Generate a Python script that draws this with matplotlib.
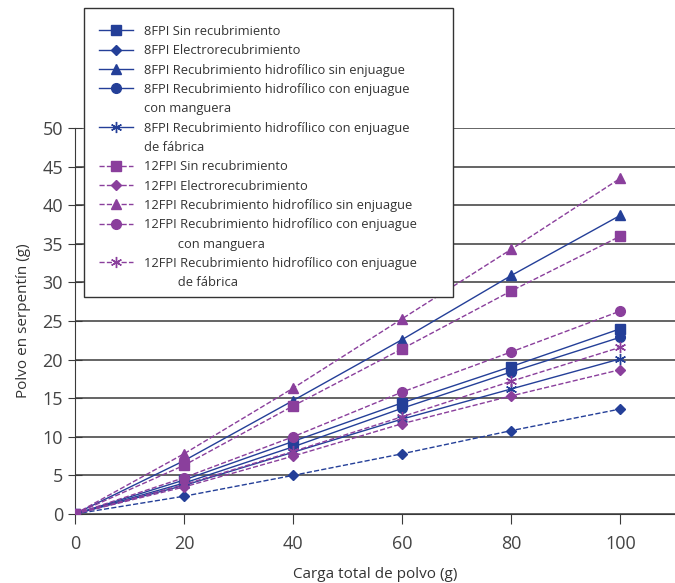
import matplotlib
matplotlib.use('Agg')
import matplotlib.pyplot as plt
from matplotlib.lines import Line2D
from matplotlib.patches import Rectangle

plt.rcParams['font.family'] = ['Open Sans', 'DejaVu Sans']

carga = [0, 20, 40, 60, 80, 100]

fpi8_sin = [0, 4.4, 9.4, 14.4, 19.1, 24.0]
fpi8_electro = [0, 2.3, 5.0, 7.8, 10.8, 13.6]
fpi8_hidro_sin = [0, 6.9, 14.7, 22.6, 30.9, 38.7]
fpi8_manguera = [0, 4.0, 8.7, 13.7, 18.4, 22.9]
fpi8_fabrica = [0, 3.7, 8.0, 12.3, 16.2, 20.1]

fpi12_sin = [0, 6.3, 14.0, 21.4, 28.9, 36.0]
fpi12_electro = [0, 3.5, 7.5, 11.7, 15.3, 18.7]
fpi12_hidro_sin = [0, 7.8, 16.3, 25.3, 34.3, 43.5]
fpi12_manguera = [0, 4.7, 10.0, 15.8, 21.0, 26.3]
fpi12_fabrica = [0, 3.8, 8.1, 12.6, 17.2, 21.6]

etiquetas = [
    '8FPI Sin recubrimiento',
    '8FPI Electrorecubrimiento',
    '8FPI Recubrimiento hidrofílico sin enjuague',
    '8FPI Recubrimiento hidrofílico con enjuague\ncon manguera',
    '8FPI Recubrimiento hidrofílico con enjuague\nde fábrica',
    '12FPI Sin recubrimiento',
    '12FPI Electrorecubrimiento',
    '12FPI Recubrimiento hidrofílico sin enjuague',
    '12FPI Recubrimiento hidrofílico con enjuague\n          con manguera',
    '12FPI Recubrimiento hidrofílico con enjuague\n          de fábrica',
]

azul = '#243f98'
morado = '#8a3f9c'
asterisco = (6, 2, 0)

series = [
    (fpi8_sin, azul, '-', 's', 7),
    (fpi8_electro, azul, '--', 'D', 5),
    (fpi8_hidro_sin, azul, '-', '^', 7),
    (fpi8_manguera, azul, '-', 'o', 7),
    (fpi8_fabrica, azul, '-', asterisco, 8),
    (fpi12_sin, morado, '--', 's', 7),
    (fpi12_electro, morado, '--', 'D', 5),
    (fpi12_hidro_sin, morado, '--', '^', 7),
    (fpi12_manguera, morado, '--', 'o', 7),
    (fpi12_fabrica, morado, '--', asterisco, 8),
]

W, H = 675, 583
fig = plt.figure(figsize=(W / 100, H / 100), dpi=100)
ax = fig.add_axes([0.111, 0.1184, 0.889, 0.662])

handles = []
textos = []
for (vals, col, ls, mk, ms), etq in zip(series, etiquetas):
    ax.plot(carga, vals, color=col, linestyle=ls, linewidth=1, marker=mk,
            markersize=ms, markeredgecolor=col, markerfacecolor=col, zorder=3)
    # en la leyenda todas las 8FPI van con linea continua
    ls_ley = '-' if col == azul else '--'
    lineas = etq.split('\n')
    handles.append(Line2D([], [], color=col, linestyle=ls_ley, linewidth=1,
                          marker=mk, markersize=ms, markeredgecolor=col,
                          markerfacecolor=col))
    textos.append(lineas[0])
    # segunda linea de la etiqueta sin simbolo
    for resto in lineas[1:]:
        handles.append(Line2D([], [], linestyle='none'))
        textos.append(resto)

ax.set_xlim(0, 110)
ax.set_ylim(0, 50)
ax.set_xticks([0, 20, 40, 60, 80, 100])
ax.set_yticks(range(0, 51, 5))
ax.yaxis.grid(True, color='#3a3a3a', linewidth=1.1)
ax.set_axisbelow(True)
for s in ['top', 'right']:
    ax.spines[s].set_visible(False)
for s in ['left', 'bottom']:
    ax.spines[s].set_color('#3a3a3a')
ax.tick_params(axis='y', direction='inout', length=10, labelsize=13, labelcolor='#444444', color='#3a3a3a')
ax.tick_params(axis='x', direction='out', length=7, labelsize=13, labelcolor='#444444', color='#3a3a3a', pad=8)

ax.set_xlabel('Carga total de polvo (g)', fontsize=11, color='#333333', labelpad=10)
ax.set_ylabel('Polvo en serpentín (g)', fontsize=11, color='#333333', labelpad=8)

# caja blanca de la leyenda (sobresale por encima del area de trazado)
caja = Rectangle((84 / W, 1 - 297 / H), (453 - 84) / W, (297 - 8) / H,
                 transform=fig.transFigure, facecolor='white',
                 edgecolor='#333333', linewidth=1, zorder=4)
fig.patches.append(caja)

leg = fig.legend(handles=handles, labels=textos, loc='upper left',
                 bbox_to_anchor=(86 / W, 1 - 12 / H), borderaxespad=0,
                 fontsize=9.3, frameon=False, handlelength=2.6,
                 labelspacing=0.49, borderpad=1.0, handletextpad=0.9)
for t in leg.get_texts():
    t.set_color('#333333')
leg.set_zorder(5)

plt.savefig('out.png', dpi=100)
